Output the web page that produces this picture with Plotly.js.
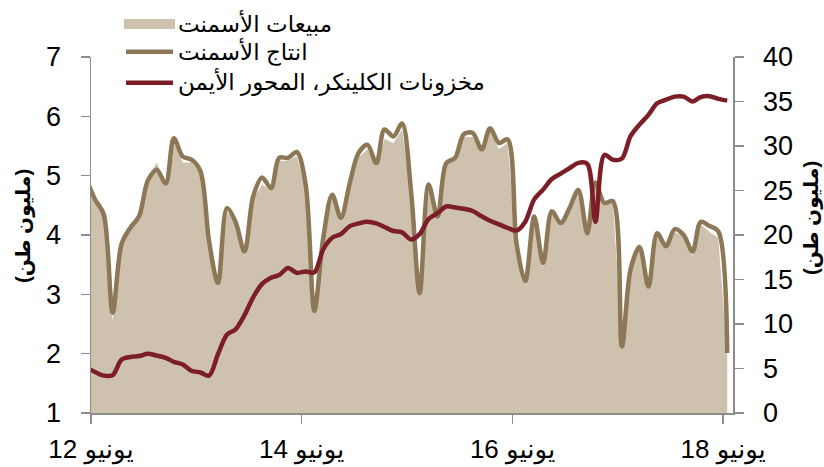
<!DOCTYPE html>
<html>
<head>
<meta charset="utf-8">
<script src="https://cdn.plot.ly/plotly-3.0.1.min.js"></script>
<style>
html,body{margin:0;padding:0;background:#fff;}
#chart{width:824px;height:467px;}
</style>
</head>
<body>
<div id="chart"></div>
<script>
// Monthly observations (mid-month), May 2012 – Jun 2018
const months = [
 '2012-05','2012-06','2012-07','2012-08','2012-09','2012-10','2012-11','2012-12',
 '2013-01','2013-02','2013-03','2013-04','2013-05','2013-06','2013-07','2013-08','2013-09','2013-10','2013-11','2013-12',
 '2014-01','2014-02','2014-03','2014-04','2014-05','2014-06','2014-07','2014-08','2014-09','2014-10','2014-11','2014-12',
 '2015-01','2015-02','2015-03','2015-04','2015-05','2015-06','2015-07','2015-08','2015-09','2015-10','2015-11','2015-12',
 '2016-01','2016-02','2016-03','2016-04','2016-05','2016-06','2016-07','2016-08','2016-09','2016-10','2016-11','2016-12',
 '2017-01','2017-02','2017-03','2017-04','2017-05','2017-06','2017-07','2017-08','2017-09','2017-10','2017-11','2017-12',
 '2018-01','2018-02','2018-03','2018-04','2018-05','2018-06'
];

// Cement sales (million tonnes, left axis)
const cementSales = [
 4.95,4.55,4.30,2.55,3.80,4.10,4.30,4.95,5.22,4.85,5.55,5.22,5.22,5.05,3.90,3.12,4.40,4.20,3.65,4.60,
 4.85,4.75,5.25,5.25,5.33,4.80,2.65,3.90,4.65,4.25,4.85,5.30,5.45,5.15,5.62,5.55,5.78,4.70,2.95,4.80,
 4.28,5.18,5.28,5.65,5.65,5.38,5.75,5.45,5.55,3.80,3.15,4.28,3.45,4.38,4.15,4.40,4.72,4.00,4.95,4.50,
 4.55,2.10,3.40,3.78,3.10,4.00,3.78,4.05,3.98,3.65,4.18,4.05,3.95,2.00
];

// Cement production (million tonnes, left axis)
const cementProduction = [
 4.95,4.60,4.35,2.69,3.85,4.12,4.32,4.92,5.10,4.87,5.63,5.32,5.27,5.08,3.90,3.19,4.45,4.22,3.72,4.65,
 4.97,4.79,5.30,5.30,5.40,4.85,2.72,3.95,4.68,4.29,4.88,5.38,5.52,5.21,5.78,5.66,5.88,4.75,3.02,4.85,
 4.31,5.21,5.30,5.70,5.72,5.44,5.80,5.55,5.61,3.85,3.22,4.31,3.53,4.40,4.20,4.45,4.76,4.03,4.88,4.54,
 4.57,2.12,3.42,3.80,3.13,4.03,3.81,4.10,4.00,3.72,4.22,4.15,4.06,2.01
];

// Clinker stocks (million tonnes, right axis)
const clinkerStocks = [
 5.1,4.6,4.2,4.25,6.0,6.3,6.4,6.65,6.45,6.2,5.75,5.45,4.75,4.55,4.2,6.6,8.8,9.4,11.0,13.0,
 14.5,15.2,15.5,16.3,15.75,15.9,15.8,18.4,19.7,20.1,21.0,21.3,21.5,21.3,20.9,20.45,20.3,19.5,20.1,21.8,
 22.45,23.2,23.1,22.95,22.7,22.1,21.6,21.2,20.8,20.5,21.5,24.0,25.1,26.3,26.9,27.5,28.1,28.0,21.5,29.0,
 28.45,28.6,31.1,32.4,33.5,34.8,35.2,35.55,35.55,35.0,35.5,35.6,35.3,35.1
];

const tickDates = ['2012-06-01','2014-06-01','2016-06-01','2018-06-01'];
const tickLabels = ['يونيو 12','يونيو 14','يونيو 16','يونيو 18'];

const seriesNames = ['مبيعات الأسمنت','انتاج الأسمنت','مخزونات الكلينكر، المحور الأيمن'];
const axisTitle = '(مليون طن)';

const xDates = months.map(m => m + '-15');

const C_AREA = '#cec2af', C_PROD = '#8c7756', C_STOCK = '#7c1e27', C_AXIS = '#8d8d8d';
const FONT = 'Liberation Sans, Arial, DejaVu Sans, sans-serif';

const traces = [
 {x: xDates, y: cementSales, type:'scatter', mode:'lines', fill:'tozeroy',
  fillcolor: C_AREA, line:{width:0, color:C_AREA}, name: seriesNames[0], hoverinfo:'skip'},
 {x: xDates, y: cementProduction, type:'scatter', mode:'lines',
  line:{width:4.5, color:C_PROD, shape:'spline', smoothing:0.9}, name: seriesNames[1]},
 {x: xDates, y: clinkerStocks, type:'scatter', mode:'lines', yaxis:'y2',
  line:{width:4.5, color:C_STOCK, shape:'spline', smoothing:0.9}, name: seriesNames[2]}
];

const W = 824, H = 467, ML = 91, MR = 91, MT = 57, MB = 54;
const PW = W - ML - MR, PH = H - MT - MB;
const px = v => (v - ML) / PW;
const py = v => (H - MB - v) / PH;

const legendRows = [24, 52, 82];
const shapes = [
 {type:'rect', xref:'paper', yref:'paper', x0:px(124), x1:px(175), y0:py(29), y1:py(19),
  fillcolor:C_AREA, line:{width:0}},
 {type:'line', xref:'paper', yref:'paper', x0:px(126), x1:px(173), y0:py(51.7), y1:py(51.7),
  line:{color:C_PROD, width:4.5}},
 {type:'line', xref:'paper', yref:'paper', x0:px(126), x1:px(173), y0:py(82.7), y1:py(82.7),
  line:{color:C_STOCK, width:4.5}}
];

const annotations = seriesNames.map((t, i) => ({
 text: t, xref:'paper', yref:'paper', x: px(176), y: py(legendRows[i]),
 xanchor:'left', yanchor:'middle', showarrow:false,
 font:{family:FONT, size:23, color:'#000'}
}));
annotations.push({text: axisTitle, xref:'paper', yref:'paper', x: px(23), y: py(226),
 textangle:-90, xanchor:'center', yanchor:'middle', showarrow:false,
 font:{family:FONT, size:20, color:'#000', weight:'bold'}});
annotations.push({text: axisTitle, xref:'paper', yref:'paper', x: px(811), y: py(218),
 textangle:-90, xanchor:'center', yanchor:'middle', showarrow:false,
 font:{family:FONT, size:20, color:'#000', weight:'bold'}});

const layout = {
 width: W, height: H,
 margin:{l:ML, r:MR, t:MT, b:MB, pad:0},
 paper_bgcolor:'#fff', plot_bgcolor:'#fff',
 showlegend:false,
 font:{family:FONT, size:27, color:'#000'},
 xaxis:{type:'date', range:['2012-06-01','2018-07-05'],
  tickmode:'array', tickvals: tickDates, ticktext: tickLabels,
  ticks:'outside', ticklen:9, tickwidth:1.5, tickcolor:C_AXIS,
  showline:true, linecolor:C_AXIS, linewidth:1.5, showgrid:false, zeroline:false,
  tickfont:{family:FONT, size:26}, ticklabelstandoff:3},
 yaxis:{range:[1,7], dtick:1, tick0:1, ticks:'outside', ticklen:9, tickwidth:1.5, tickcolor:C_AXIS,
  showline:true, linecolor:C_AXIS, linewidth:1.5, showgrid:false, zeroline:false,
  tickfont:{family:FONT, size:27}, ticklabelstandoff:14},
 yaxis2:{range:[0,40], dtick:5, tick0:0, overlaying:'y', side:'right',
  ticks:'outside', ticklen:9, tickwidth:1.5, tickcolor:C_AXIS,
  showline:true, linecolor:C_AXIS, linewidth:1.5, showgrid:false, zeroline:false,
  tickfont:{family:FONT, size:27}, ticklabelstandoff:14},
 shapes: shapes,
 annotations: annotations
};

Plotly.newPlot('chart', traces, layout, {staticPlot:true, displayModeBar:false});
</script>
</body>
</html>
